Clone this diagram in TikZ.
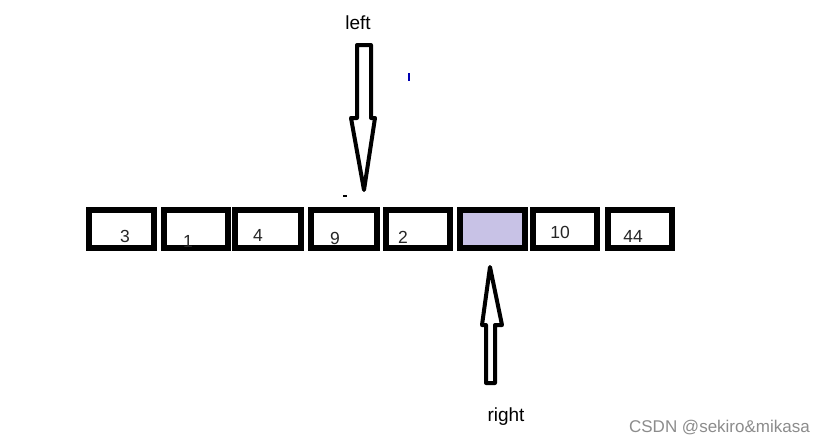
\documentclass[tikz,border=0pt]{standalone}
\usepackage{fontspec}
\setmainfont{Liberation Sans}
\begin{document}
\begin{tikzpicture}[x=1pt,y=-1pt,
  cell/.style={draw=black,line width=6pt,minimum width=65pt,minimum height=38pt,inner sep=0pt,fill=white},
  num/.style={font=\fontsize{17.5}{20}\selectfont,inner sep=0pt,text=black!85},
  lbl/.style={font=\fontsize{19}{22}\selectfont,inner sep=0pt},
  arrowshape/.style={draw=black,line width=4pt,line join=round,fill=white}]
\useasboundingbox (0,0) rectangle (824,445);
\fill[white] (0,0) rectangle (824,445);
% cells
\node[cell] (b1) at (121.5,229) {};
\node[cell,minimum width=64pt] (b2) at (196,229) {};
\node[cell,minimum width=66pt] (b3) at (268,229) {};
\node[cell,minimum width=66pt] (b4) at (344,229) {};
\node[cell,minimum width=64pt] (b5) at (418,229) {};
\node[cell,fill={rgb,255:red,200;green,194;blue,230}] (b6) at (492.5,229) {};
\node[cell,minimum width=64pt] (b7) at (565,229) {};
\node[cell,minimum width=64pt] (b8) at (640,229) {};
% numbers
\node[num] (n1) at (125,236) {3};
\node[num] (n2) at (188,241) {1};
\node[num] (n3) at (258,235) {4};
\node[num] (n4) at (335,238) {9};
\node[num] (n5) at (403,237) {2};
\node[num] (n7) at (560,232) {10};
\node[num] (n8) at (633,236) {44};
% left arrow
\draw[arrowshape] (357,45) -- (371,45) -- (371,118) -- (375,118) -- (364,190) -- (351,118) -- (357,118) -- cycle;
\node[lbl] (lleft) at (358,23) {left};
% right arrow
\draw[arrowshape] (486,383) -- (495,383) -- (495,325) -- (502,325) -- (490,267) -- (482,325) -- (486,325) -- cycle;
\node[lbl] (lright) at (506,417) {right};
% stray marks
\fill[black] (343,195) rectangle (347,197);
\fill[blue!70!black] (407.5,73) rectangle (409.5,81);
% watermark
\node[font=\fontsize{17}{20}\selectfont,text=black!45,anchor=east,inner sep=0pt] (wm) at (810,428) {CSDN @sekiro\&mikasa};
\end{tikzpicture}
\end{document}
